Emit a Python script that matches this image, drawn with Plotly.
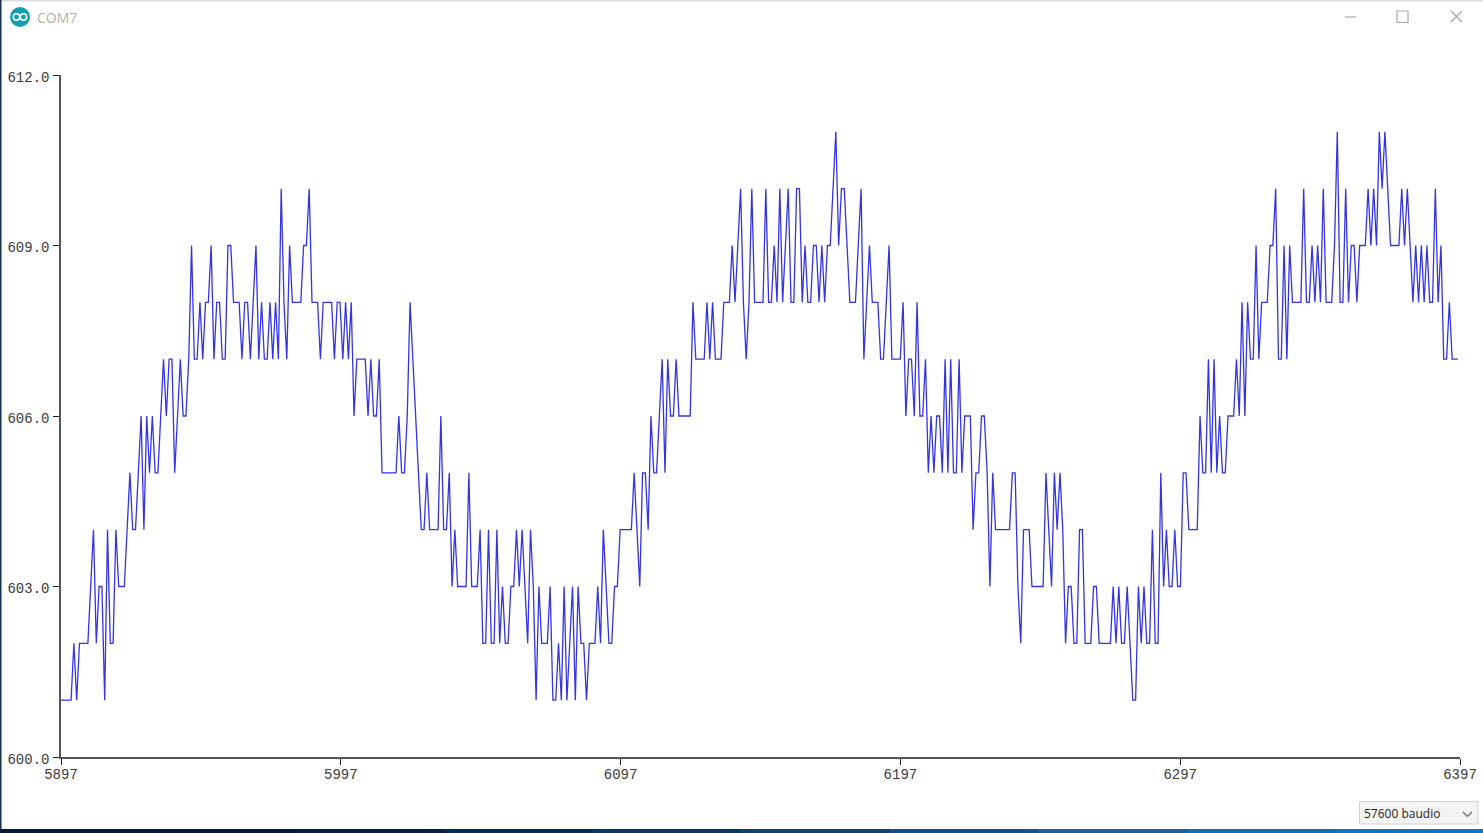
import plotly.graph_objects as go

W, H = 1483, 833
PLOT_L, PLOT_R, PLOT_T, PLOT_B = 61, 1460, 75, 757

x_ticks = [5897, 5997, 6097, 6197, 6297, 6397]
y_ticks = [600, 603, 606, 609, 612]
y_tick_labels = ["600.0", "603.0", "606.0", "609.0", "612.0"]

rise_1 = [601,601,601,601,602,601,602,602,602,602,603,604,602,603,603,601,604,602,602,604,
          603,603,603,604,605,604,604,605,606,604,606,605,606,605,605,606,607,606,607,607,
          605,606,607,606,606,607,609,607,607,608,607,608,608,609,607,608,608,607,607,609,
          609,608,608,608,607,608,608,607,608,609,607,608,607,607,608,607,608,607,610,608,
          607,609,608,608,608,608,609,609,610,608,608,608,607,608,608,608,608,607,608,608,
          607,608,607]
fall_1 = [608,606,607,607,607,607,606,607,606,606,607,605,605,605,605,605,605,606,605,605,
          606,608,607,606,605,604,604,605,604,604,604,604,606,604,604,605,603,604,603,603,
          603,603,605,603,603,603,604,602,602,604,602,602,604,602,603,602,602,603,603,604,
          603,604,603,602,604,603,601,603,602,602,602,603,601,601,602,601,603,601,602,603,
          601,603,602,602,601,602,602,602,603,602,604,603,602,602,603,603]
rise_2 = [604,604,604,604,604,605,604,603,605,605,604,606,605,605,606,607,605,607,606,606,
          607,606,606,606,606,606,608,607,607,607,607,608,607,608,607,607,607,608,608,608,
          609,608,609,610,608,607,608,610,608,608,608,608,610,608,608,609,608,610,608,609,
          610,608,608,610,610,608,609,608,608,609,609,608,609,608,609,609,610,611,609,610,
          610,609,608,608,608,609,610,607,608,609,608,608,608,607,607,608,609,607,607,607,
          607]
fall_2 = [608,606,607,607,606,608,606,606,607,605,606,605,606,606,605,607,605,607,605,605,
          607,605,606,606,606,604,605,605,606,606,605,603,605,604,604,604,604,604,604,605,
          605,603,602,604,604,604,603,603,603,603,603,605,604,603,605,604,605,604,602,603,
          603,602,602,604,604,602,602,602,603,603,602,602,602,602,602,603,602,603,602,602,
          603,602,601,601,603,602,603,602,602,604,602,602,605,603,604,603,603,604,603,603]
rise_3 = [605,605,604,604,604,604,606,605,605,607,605,607,605,606,605,605,606,606,606,607,
          606,608,606,608,607,607,609,607,608,608,608,609,609,610,607,607,609,607,609,608,
          608,608,608,610,608,608,609,608,609,608,610,608,608,608,609,611,608,608,610,608,
          609,609,608,609,609,609,610,609,610,609,611,610,611,610,609,609,609,609,610,609,
          610,609,608,609,608,609,608,609,608,608,610,608,609,607,607,608,607,607,607]

start_value = [601]
values = start_value + rise_1 + fall_1 + rise_2 + fall_2 + rise_3
first_sample = 5897
sample_x = [first_sample] + [first_sample + 0.6 + i * 1.0012 for i in range(len(values) - 1)]


def px(x):
    return x / W


def py(y):
    return 1 - y / H


def rect(x0, y0, x1, y1, fill=None, line=None, width=1):
    return dict(type="rect", xref="paper", yref="paper", x0=px(x0), x1=px(x1), y0=py(y1), y1=py(y0),
                fillcolor=fill or "rgba(0,0,0,0)",
                line=dict(color=line or "rgba(0,0,0,0)", width=width if line else 0), layer="above")


def seg(x0, y0, x1, y1, color, width=1):
    return dict(type="line", xref="paper", yref="paper", x0=px(x0), x1=px(x1), y0=py(y0), y1=py(y1),
                line=dict(color=color, width=width), layer="above")


def circle(cx, cy, r, fill=None, line=None, width=1):
    return dict(type="circle", xref="paper", yref="paper", x0=px(cx - r), x1=px(cx + r),
                y0=py(cy + r), y1=py(cy - r), fillcolor=fill or "rgba(0,0,0,0)",
                line=dict(color=line or "rgba(0,0,0,0)", width=width if line else 0), layer="above")


taskbar_colors = ["#061a38", "#06193a", "#071f45", "#082a55", "#0a3566", "#0c4378", "#0e538d", "#1062a3", "#116db2", "#1272bb"]
shapes = [
    rect(0, 0, W, 1.5, fill="#dcdcdc"),
    rect(0, 0, 1.5, 829, fill="#14304f"),
    circle(20, 17, 10, fill="#12a0ad"),
    circle(16.5, 17, 3.2, line="#ffffff", width=1.5),
    circle(23.5, 17, 3.2, line="#ffffff", width=1.5),
    seg(1345, 17, 1356, 17, "#a8a8a8", 1.2),
    rect(1397, 11, 1408, 22.5, line="#a8a8a8", width=1.2),
    seg(1451, 11, 1462, 22, "#a8a8a8", 1.2),
    seg(1451, 22, 1462, 11, "#a8a8a8", 1.2),
    rect(1359.5, 801.5, 1478, 824, fill="#f4f4f4", line="#d0d0d0", width=1),
    seg(1463, 812, 1467.5, 816.5, "#666666", 1.2),
    seg(1467.5, 816.5, 1472, 812, "#666666", 1.2),
]
step = W / len(taskbar_colors)
for i, c in enumerate(taskbar_colors):
    shapes.append(rect(i * step, 829, (i + 1) * step + 1, 833, fill=c))

fig = go.Figure()
fig.add_trace(go.Scatter(x=sample_x, y=values, mode="lines",
                         line=dict(color="#3434e2", width=1.3, shape="linear"),
                         showlegend=False, hoverinfo="skip"))

tick_font = dict(family="Liberation Mono", size=14, color="#3a3a3a")
fig.update_layout(
    width=W, height=H, margin=dict(l=0, r=0, t=0, b=0, autoexpand=False), autosize=False,
    paper_bgcolor="#ffffff", plot_bgcolor="#ffffff", showlegend=False,
    xaxis=dict(domain=[px(PLOT_L), px(PLOT_R)], range=[5897, 6397], tickvals=x_ticks,
               ticktext=[str(v) for v in x_ticks], ticks="outside", ticklen=6, tickwidth=1,
               tickcolor="#222222", showgrid=False, zeroline=False, showline=True,
               linecolor="#555555", linewidth=1.5, anchor="y", ticklabelstandoff=-3,
               tickfont=tick_font),
    yaxis=dict(domain=[py(PLOT_B), py(PLOT_T)], range=[600, 612], tickvals=y_ticks,
               ticktext=y_tick_labels, ticks="outside", ticklen=6, tickwidth=1,
               tickcolor="#222222", showgrid=False, zeroline=False, showline=True,
               linecolor="#555555", linewidth=1.5, anchor="x", ticklabelstandoff=1, ticklabelshift=2,
               tickfont=tick_font),
    xaxis2=dict(domain=[px(PLOT_L), px(PLOT_R)], range=[5897, 6397], tickvals=x_ticks, overlaying="x",
                anchor="y2", ticks="inside", ticklen=3, tickwidth=1, tickcolor="#222222",
                showticklabels=False, showgrid=False, zeroline=False, showline=False),
    yaxis2=dict(domain=[py(PLOT_B), py(PLOT_T)], range=[600, 612], tickvals=y_ticks, overlaying="y",
                anchor="x2", ticks="inside", ticklen=3, tickwidth=1, tickcolor="#222222",
                showticklabels=False, showgrid=False, zeroline=False, showline=False),
    shapes=shapes,
    annotations=[
        dict(text="COM7", xref="paper", yref="paper", x=px(35), y=py(17.5), xanchor="left", yanchor="middle",
             showarrow=False, font=dict(family="Open Sans", size=14, color="#b0b0b0")),
        dict(text="57600 baudio", xref="paper", yref="paper", x=px(1362), y=py(813), xanchor="left", yanchor="middle",
             showarrow=False, font=dict(family="Open Sans", size=12, color="#222222")),
    ],
)

fig.write_html("out.html", config={"displayModeBar": False},
               post_script="document.body.style.margin='0';document.body.style.overflow='hidden';")
